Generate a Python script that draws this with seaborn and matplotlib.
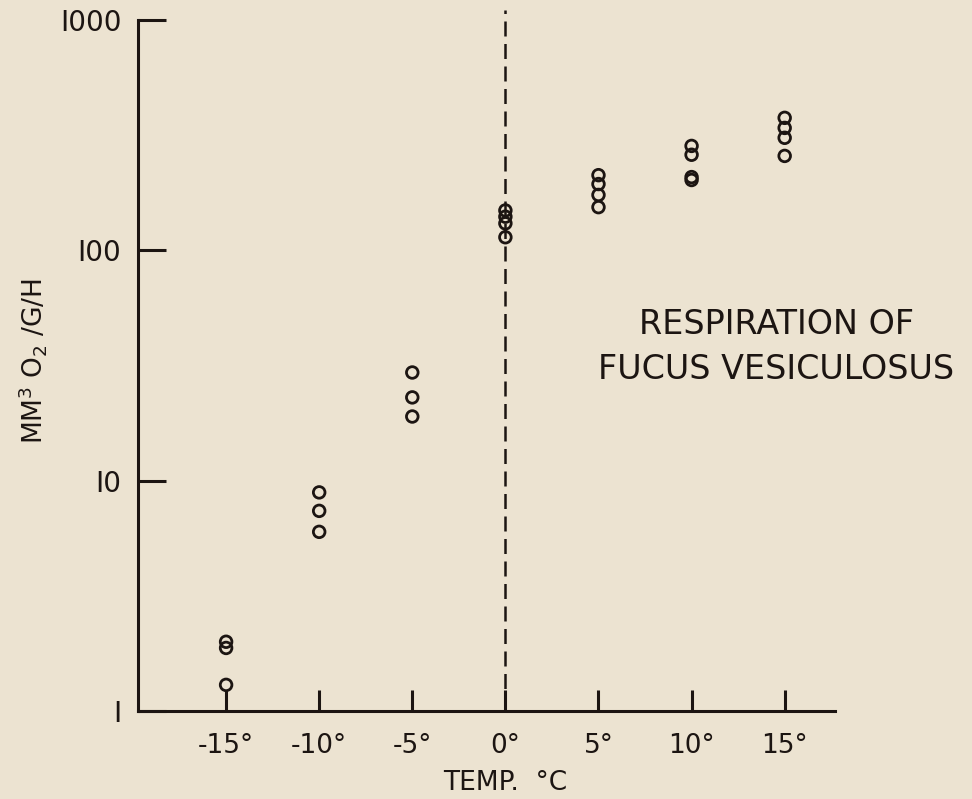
import matplotlib

matplotlib.use("Agg")
import matplotlib.pyplot as plt
import pandas as pd
import seaborn as sns

# readings per temperature (mm3 O2 / g / h)
temp_c = [-15, -15, -15,
          -10, -10, -10,
          -5, -5, -5,
          0, 0, 0, 0,
          5, 5, 5, 5,
          10, 10, 10, 10,
          15, 15, 15, 15]
respiration = [2.0, 1.88, 1.3,
               8.9, 7.4, 6.0,
               29.5, 23.0, 19.0,
               149, 140, 131, 114,
               212, 194, 174, 154,
               284, 260, 208, 202,
               376, 340, 308, 257]

x_ticks = [-15, -10, -5, 0, 5, 10, 15]
x_tick_labels = ["-15°", "-10°", "-5°", "0°", "5°", "10°", "15°"]
y_ticks = [1, 10, 100, 1000]
y_tick_labels = ["I", "I0", "I00", "I000"]

PAPER = "#ece3d1"
INK = "#1c1512"

sns.set_theme(style="white")
plt.rcParams["font.family"] = ["DejaVu Sans"]
plt.rcParams["mathtext.fontset"] = "dejavusans"

df = pd.DataFrame({"temp": temp_c, "resp": respiration})

fig = plt.figure(figsize=(9.72, 7.99), dpi=100, facecolor=PAPER)
ax = fig.add_axes([0.142, 0.110, 0.717, 0.865])
ax.set_facecolor(PAPER)

sns.scatterplot(data=df, x="temp", y="resp", ax=ax, marker="o", s=70,
                facecolor="none", edgecolor=INK, linewidth=2.0, zorder=3)

ax.set_yscale("log")
ax.set_ylim(1, 1000)
ax.set_xlim(-19.73, 17.7)

# dashed freezing line, runs a bit above the top of the axis
ax.plot([0, 0], [1, 1100], color=INK, lw=1.8, ls=(0, (6, 3)), clip_on=False, zorder=2)

for side in ["top", "right"]:
    ax.spines[side].set_visible(False)
for side in ["left", "bottom"]:
    ax.spines[side].set_color(INK)
    ax.spines[side].set_linewidth(2.2)

ax.set_xticks(x_ticks)
ax.set_xticklabels(x_tick_labels, fontsize=19, color=INK)
ax.set_yticks(y_ticks)
ax.set_yticklabels(y_tick_labels, fontsize=20, color=INK)
ax.minorticks_off()
ax.tick_params(axis="x", bottom=True, direction="in", length=15, width=2.2, color=INK, pad=16)
ax.tick_params(axis="y", left=True, direction="in", length=20, width=2.2, color=INK, pad=12)

ax.set_xlabel("TEMP.  °C", fontsize=19, color=INK)
ax.xaxis.set_label_coords(0.527, -0.085)
ax.set_ylabel(r"MM$^3$ O$_2$ /G/H", fontsize=19, color=INK)
ax.yaxis.set_label_coords(-0.128, 0.506)

ax.text(0.916, 0.527, "RESPIRATION OF\nFUCUS VESICULOSUS", transform=ax.transAxes,
        ha="center", va="center", fontsize=24, color=INK, linespacing=1.45)

fig.savefig("out.png", dpi=100, facecolor=PAPER)
